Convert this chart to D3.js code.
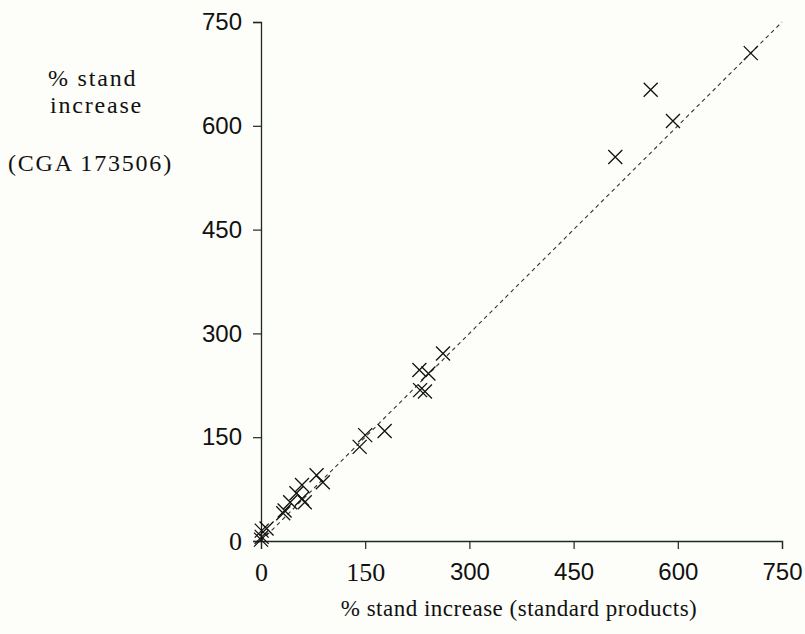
<!DOCTYPE html>
<html>
<head>
<meta charset="utf-8">
<script src="https://cdn.jsdelivr.net/npm/d3@7"></script>
<style>
  body { margin: 0; background: #fdfdf9; }
  svg { display: block; }
</style>
</head>
<body>
<div id="chart"></div>
<script>
// % stand increase, standard products (x) vs CGA 173506 (y)
const standardX = [705, 561, 593, 510, 262, 228, 241, 229, 236, 178, 150, 142,
                   80, 89, 59, 51, 59, 63, 42, 34, 32, 1, 8, 1, 0];
const cgaY      = [705, 652, 607, 555, 271, 247, 242, 218, 216, 159, 153, 136,
                   95, 85, 81, 69, 61, 56, 56, 44, 40, 15, 18, 6, 2];
const tickValues = [0, 150, 300, 450, 600, 750];

const points = standardX.map((x, i) => ({ x: x, y: cgaY[i] }));

const width = 805, height = 634;
const margin = { top: 22, right: 23, bottom: 93, left: 261 };

const svg = d3.select('#chart').append('svg')
  .attr('width', width)
  .attr('height', height)
  .style('background', '#fdfdf9');

const x = d3.scaleLinear()
  .domain([0, 750])
  .range([margin.left, width - margin.right]);

const y = d3.scaleLinear()
  .domain([0, 750])
  .range([height - margin.bottom, margin.top]);

// tick labels: the zeros and the 150 on x are set in serif in the original
const serif = '"Liberation Serif", "Times New Roman", serif';
const sans = '"Liberation Sans", Arial, sans-serif';

function xAxis(g) {
  g.attr('transform', `translate(0,${y(0)})`)
    .call(d3.axisBottom(x).tickValues(tickValues).tickSize(8).tickPadding(14))
    .call(g => g.select('.domain').attr('stroke', '#1f2a24').attr('stroke-width', 1.3));
  g.selectAll('.tick line').attr('stroke', '#1f2a24').attr('stroke-width', 1.2);
  g.selectAll('.tick text')
    .attr('fill', '#111')
    .style('font-family', d => (d === 0 || d === 150) ? serif : sans)
    .style('font-size', d => (d === 0 || d === 150) ? '26px' : '24px');
}

function yAxis(g) {
  g.attr('transform', `translate(${x(0)},0)`)
    .call(d3.axisLeft(y).tickValues(tickValues).tickSize(8).tickPadding(11))
    .call(g => g.select('.domain').attr('stroke', '#1f2a24').attr('stroke-width', 1.3));
  g.selectAll('.tick line').attr('stroke', '#1f2a24').attr('stroke-width', 1.2);
  g.selectAll('.tick text')
    .attr('fill', '#111')
    .style('font-family', d => d === 0 ? serif : sans)
    .style('font-size', d => d === 0 ? '26px' : '24px');
}

svg.append('g').call(xAxis);
svg.append('g').call(yAxis);

// line of equality
const line = d3.line().x(d => x(d)).y(d => y(d));
svg.append('path')
  .attr('d', line([0, 750]))
  .attr('fill', 'none')
  .attr('stroke', '#333')
  .attr('stroke-width', 1.1)
  .attr('stroke-dasharray', '4,3.5');

// X markers
const r = 7;
svg.append('g')
  .selectAll('path')
  .data(points)
  .join('path')
    .attr('transform', d => `translate(${x(d.x)},${y(d.y)})`)
    .attr('d', `M${-r},${-r}L${r},${r}M${-r},${r}L${r},${-r}`)
    .attr('fill', 'none')
    .attr('stroke', '#111')
    .attr('stroke-width', 1.3);

// axis titles
svg.append('text')
  .attr('x', 519).attr('y', 616)
  .attr('text-anchor', 'middle')
  .style('font-family', serif)
  .style('font-size', '23px')
  .style('letter-spacing', '0.5px')
  .attr('fill', '#111')
  .text('% stand increase (standard products)');

const yTitle = svg.append('text')
  .style('font-family', serif)
  .style('font-size', '24px')
  .style('letter-spacing', '1.8px')
  .attr('fill', '#111');
yTitle.append('tspan').attr('x', 48).attr('y', 86).text('% stand');
yTitle.append('tspan').attr('x', 50).attr('y', 113).text('increase');
yTitle.append('tspan').attr('x', 8).attr('y', 171).text('(CGA 173506)');
</script>
</body>
</html>
